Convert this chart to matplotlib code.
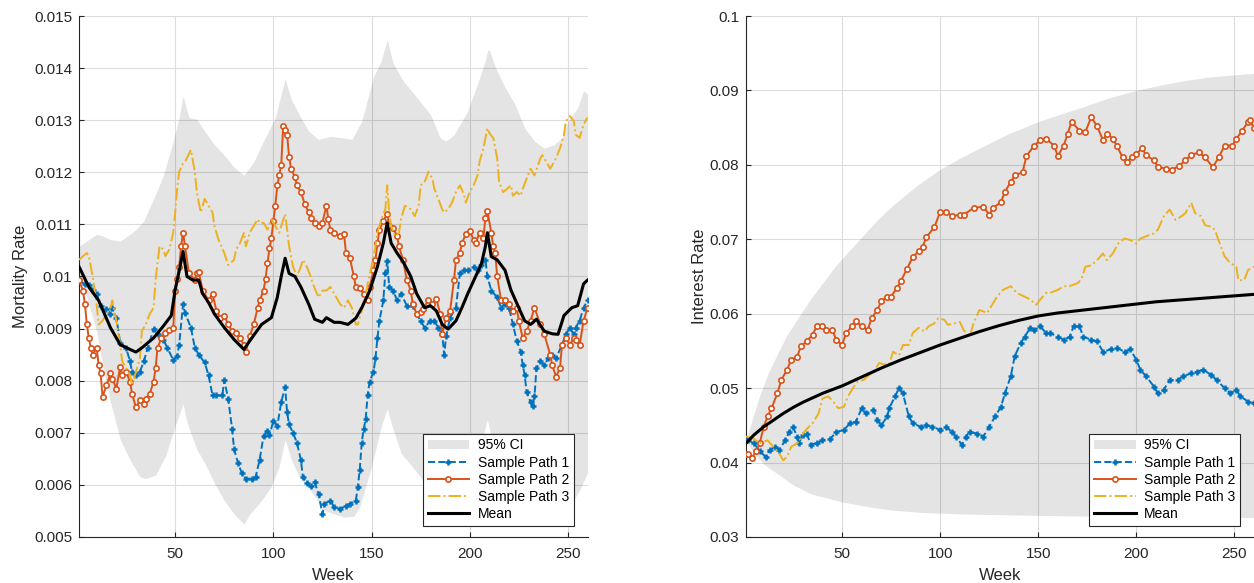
#!/usr/bin/env python3

# simulated mortality and interest rate paths, weekly horizon (5 years)

import matplotlib
matplotlib.use('Agg')
import matplotlib.pyplot as plt
from matplotlib.ticker import FuncFormatter
import numpy as np

# ---------------- mortality rate panel ----------------
mort_ci_up_wk = [1, 6, 10, 13, 17, 22, 27, 30, 34, 39, 44, 49, 52, 54, 57, 61, 65, 70, 75, 80, 85, 90, 95, 101, 104, 106, 109, 113, 118, 123, 129, 136, 140, 145, 151, 155, 158, 161, 166, 173, 180, 185, 188, 192, 199, 204, 208, 209.5, 213, 218, 223, 228, 233, 238, 243, 247, 250, 255, 258, 260]
mort_ci_up = [0.01058, 0.01071, 0.01081, 0.01078, 0.01071, 0.01068, 0.01081, 0.01090, 0.01107, 0.01149, 0.01194, 0.01260, 0.01305, 0.01347, 0.01305, 0.01302, 0.01279, 0.01253, 0.01233, 0.01210, 0.01194, 0.01220, 0.01260, 0.01305, 0.01350, 0.01380, 0.01341, 0.01312, 0.01279, 0.01263, 0.01269, 0.01266, 0.01263, 0.01298, 0.01383, 0.01415, 0.01455, 0.01409, 0.01376, 0.01344, 0.01311, 0.01266, 0.01260, 0.01272, 0.01318, 0.01370, 0.01415, 0.01441, 0.01402, 0.01363, 0.01331, 0.01285, 0.01260, 0.01246, 0.01253, 0.01266, 0.01298, 0.01324, 0.01357, 0.01350]

mort_ci_lo_wk = [1, 5, 10, 13, 17, 22, 27, 32, 35, 40, 45, 50, 53, 54, 56, 61, 65, 70, 75, 80, 85, 88, 94, 99, 103, 106, 109, 113, 120, 126, 131, 136, 141, 144, 147, 150, 155, 158, 161, 165, 171, 180, 190, 200, 205, 209, 213, 220, 228, 236, 245, 252, 256, 260]
mort_ci_lo = [0.00993, 0.00960, 0.00895, 0.00830, 0.00759, 0.00687, 0.00648, 0.00616, 0.00612, 0.00619, 0.00655, 0.00713, 0.00745, 0.00755, 0.00720, 0.00668, 0.00642, 0.00603, 0.00570, 0.00544, 0.00525, 0.00544, 0.00570, 0.00597, 0.00636, 0.00687, 0.00650, 0.00616, 0.00584, 0.00551, 0.00544, 0.00538, 0.00540, 0.00558, 0.00596, 0.00635, 0.00713, 0.00746, 0.00707, 0.00661, 0.00634, 0.00590, 0.00565, 0.00620, 0.00670, 0.00725, 0.00660, 0.00600, 0.00565, 0.00545, 0.00540, 0.00565, 0.00590, 0.00623]

mort_p1_wk = [1, 4, 6, 8, 10, 12, 15, 17, 18, 20, 22, 25, 27, 28, 30, 32, 34, 36, 39, 41, 44, 46, 49, 51, 52, 54, 55, 58, 60, 62, 65, 67, 69, 71, 74, 75, 77, 79, 80, 82, 84, 86, 89, 91, 93, 95, 97, 98, 100, 102, 104, 106, 107, 108, 110, 112, 114, 115, 117, 119, 121, 123, 125, 126, 129, 131, 134, 137, 139, 142, 143, 144, 145, 146, 147, 148, 149, 151, 152, 153, 154, 156, 157, 158, 159, 161, 163, 165, 168, 171, 173, 175, 177, 180, 182, 184, 186, 187, 188, 190, 193, 195, 197, 199, 202, 204, 206, 208, 209, 211, 214, 216, 218, 220, 222, 224, 226, 227, 228, 229, 231, 232, 233, 234, 236, 238, 240, 242, 244, 247, 249, 251, 253, 254, 256, 258, 260]
mort_p1 = [0.00993, 0.00985, 0.00983, 0.00975, 0.00967, 0.00944, 0.00938, 0.00928, 0.00940, 0.00921, 0.00873, 0.00863, 0.00837, 0.00817, 0.00811, 0.00817, 0.00837, 0.00863, 0.00899, 0.00889, 0.00879, 0.00863, 0.00840, 0.00847, 0.00869, 0.00947, 0.00930, 0.00902, 0.00863, 0.00850, 0.00835, 0.00810, 0.00772, 0.00772, 0.00772, 0.00801, 0.00765, 0.00707, 0.00668, 0.00642, 0.00622, 0.00612, 0.00612, 0.00616, 0.00648, 0.00694, 0.00704, 0.00695, 0.00723, 0.00713, 0.00759, 0.00788, 0.00739, 0.00716, 0.00700, 0.00681, 0.00648, 0.00616, 0.00603, 0.00597, 0.00605, 0.00583, 0.00544, 0.00564, 0.00570, 0.00557, 0.00554, 0.00560, 0.00564, 0.00570, 0.00596, 0.00629, 0.00681, 0.00707, 0.00726, 0.00772, 0.00798, 0.00817, 0.00843, 0.00882, 0.00915, 0.00954, 0.01006, 0.01030, 0.00980, 0.00973, 0.00954, 0.00967, 0.00944, 0.00944, 0.00928, 0.00915, 0.00902, 0.00915, 0.00915, 0.00902, 0.00889, 0.00850, 0.00885, 0.00921, 0.00940, 0.01006, 0.01012, 0.01012, 0.01019, 0.01012, 0.01022, 0.01032, 0.01000, 0.00973, 0.00960, 0.00940, 0.00947, 0.00940, 0.00908, 0.00876, 0.00856, 0.00830, 0.00811, 0.00778, 0.00759, 0.00752, 0.00770, 0.00824, 0.00837, 0.00830, 0.00843, 0.00850, 0.00843, 0.00869, 0.00889, 0.00902, 0.00889, 0.00902, 0.00915, 0.00940, 0.00954]

mort_p2_wk = [1, 3, 4, 5, 6, 7, 8, 10, 11, 12, 13, 15, 17, 18, 20, 22, 23, 25, 27, 28, 30, 32, 34, 35, 37, 39, 40, 41, 43, 45, 47, 49, 50, 51, 52, 53, 54, 55, 57, 60, 61, 62, 64, 67, 69, 71, 73, 75, 77, 79, 81, 83, 85, 86, 88, 90, 92, 93, 95, 96, 97, 98, 99, 100, 101, 102, 103, 104, 105, 106, 107, 108, 109, 111, 112, 114, 116, 118, 119, 121, 123, 125, 127, 128, 129, 131, 134, 136, 137, 139, 141, 142, 144, 146, 148, 149, 151, 152, 153, 154, 156, 158, 159, 161, 163, 164, 166, 168, 170, 171, 173, 175, 176, 179, 181, 183, 185, 186, 188, 190, 192, 193, 195, 196, 198, 200, 202, 203, 205, 207, 208, 209, 211, 212, 213, 214, 216, 218, 220, 222, 224, 225, 227, 229, 231, 233, 236, 238, 241, 242, 244, 246, 247, 249, 251, 253, 254, 256, 258, 260]
mort_p2 = [0.00993, 0.00973, 0.00947, 0.00908, 0.00882, 0.00863, 0.00850, 0.00863, 0.00830, 0.00814, 0.00769, 0.00791, 0.00814, 0.00804, 0.00785, 0.00827, 0.00811, 0.00817, 0.00798, 0.00775, 0.00749, 0.00762, 0.00756, 0.00765, 0.00775, 0.00798, 0.00824, 0.00863, 0.00882, 0.00892, 0.00898, 0.00901, 0.00973, 0.00996, 0.01019, 0.01058, 0.01084, 0.01058, 0.01006, 0.00993, 0.01006, 0.01009, 0.00973, 0.00954, 0.00967, 0.00934, 0.00921, 0.00925, 0.00908, 0.00895, 0.00892, 0.00882, 0.00869, 0.00856, 0.00886, 0.00908, 0.00940, 0.00954, 0.00973, 0.00996, 0.01025, 0.01054, 0.01074, 0.01107, 0.01136, 0.01175, 0.01194, 0.01214, 0.01289, 0.01282, 0.01272, 0.01230, 0.01207, 0.01191, 0.01175, 0.01162, 0.01139, 0.01123, 0.01113, 0.01103, 0.01097, 0.01103, 0.01136, 0.01110, 0.01090, 0.01084, 0.01077, 0.01081, 0.01045, 0.01035, 0.01000, 0.00980, 0.00977, 0.00967, 0.00954, 0.00980, 0.01012, 0.01032, 0.01064, 0.01090, 0.01107, 0.01120, 0.01097, 0.01094, 0.01077, 0.01058, 0.01032, 0.00993, 0.00973, 0.00947, 0.00928, 0.00931, 0.00938, 0.00954, 0.00947, 0.00957, 0.00928, 0.00889, 0.00921, 0.00934, 0.00993, 0.01032, 0.01045, 0.01064, 0.01081, 0.01087, 0.01071, 0.01064, 0.01084, 0.01074, 0.01113, 0.01126, 0.01084, 0.01058, 0.01045, 0.01000, 0.00954, 0.00954, 0.00947, 0.00934, 0.00940, 0.00915, 0.00882, 0.00895, 0.00915, 0.00940, 0.00908, 0.00889, 0.00850, 0.00830, 0.00808, 0.00824, 0.00869, 0.00882, 0.00869, 0.00882, 0.00879, 0.00869, 0.00915, 0.00940]

mort_p3_wk = [1, 3, 5, 6, 8, 10, 11, 13, 15, 17, 18, 20, 22, 23, 25, 27, 28, 30, 32, 33, 35, 37, 39, 40, 42, 44, 45, 47, 49, 50, 51, 52, 54, 55, 58, 60, 61, 63, 65, 67, 69, 70, 72, 75, 77, 80, 81, 83, 85, 86, 88, 90, 92, 93, 95, 97, 99, 101, 103, 104, 106, 107, 108, 110, 112, 114, 115, 117, 119, 120, 123, 125, 127, 129, 131, 134, 136, 138, 140, 142, 143, 145, 147, 148, 150, 152, 153, 155, 157, 158, 159, 160, 162, 164, 165, 167, 170, 172, 174, 175, 177, 179, 181, 182, 184, 186, 187, 189, 191, 193, 195, 197, 198, 200, 202, 204, 205, 207, 209, 210, 212, 214, 215, 217, 219, 221, 222, 224, 226, 227, 229, 231, 233, 236, 237, 239, 241, 243, 244, 246, 248, 249, 251, 253, 254, 256, 258, 260]
mort_p3 = [0.01032, 0.01039, 0.01045, 0.01039, 0.00999, 0.00947, 0.00908, 0.00915, 0.00928, 0.00940, 0.00954, 0.00915, 0.00869, 0.00837, 0.00824, 0.00811, 0.00791, 0.00817, 0.00843, 0.00895, 0.00908, 0.00928, 0.00940, 0.00993, 0.01058, 0.01052, 0.01039, 0.01052, 0.01084, 0.01123, 0.01168, 0.01201, 0.01217, 0.01220, 0.01243, 0.01201, 0.01162, 0.01123, 0.01149, 0.01136, 0.01123, 0.01097, 0.01071, 0.01045, 0.01022, 0.01032, 0.01052, 0.01064, 0.01084, 0.01058, 0.01084, 0.01097, 0.01110, 0.01103, 0.01103, 0.01090, 0.01110, 0.01097, 0.01084, 0.01097, 0.01120, 0.01090, 0.01058, 0.01019, 0.01000, 0.01019, 0.01032, 0.01019, 0.01000, 0.00987, 0.00960, 0.00973, 0.00973, 0.00980, 0.00967, 0.00947, 0.00940, 0.00954, 0.00940, 0.00908, 0.00908, 0.00934, 0.00960, 0.00986, 0.01019, 0.01058, 0.01084, 0.01110, 0.01129, 0.01175, 0.01123, 0.01097, 0.01077, 0.01084, 0.01110, 0.01136, 0.01129, 0.01116, 0.01136, 0.01175, 0.01181, 0.01201, 0.01188, 0.01168, 0.01149, 0.01129, 0.01123, 0.01129, 0.01142, 0.01162, 0.01175, 0.01158, 0.01142, 0.01162, 0.01175, 0.01194, 0.01220, 0.01246, 0.01285, 0.01275, 0.01266, 0.01227, 0.01181, 0.01162, 0.01168, 0.01175, 0.01155, 0.01162, 0.01155, 0.01168, 0.01188, 0.01207, 0.01194, 0.01227, 0.01233, 0.01220, 0.01207, 0.01220, 0.01227, 0.01246, 0.01272, 0.01298, 0.01308, 0.01298, 0.01272, 0.01266, 0.01292, 0.01305]

mort_mean_wk = [1, 6, 11, 17, 22, 27, 30, 33, 39, 44, 48, 50, 52, 54, 56, 59, 62, 64, 67, 70, 75, 80, 85, 89, 94, 99, 102, 104, 106, 108, 111, 114, 118, 121, 125, 127, 131, 134, 138, 142, 145, 149, 153, 156, 158, 160, 163, 166, 170, 173, 177, 180, 183, 186, 189, 193, 196, 199, 203, 206, 208, 209, 211, 214, 218, 221, 225, 228, 231, 234, 238, 242, 245, 248, 252, 255, 258, 260]
mort_mean = [0.01019, 0.00980, 0.00954, 0.00902, 0.00869, 0.00860, 0.00855, 0.00863, 0.00882, 0.00905, 0.00925, 0.00975, 0.01010, 0.01048, 0.01000, 0.00993, 0.00993, 0.00967, 0.00950, 0.00928, 0.00902, 0.00879, 0.00860, 0.00882, 0.00908, 0.00921, 0.00960, 0.01000, 0.01035, 0.01006, 0.01000, 0.00980, 0.00947, 0.00918, 0.00912, 0.00921, 0.00912, 0.00912, 0.00908, 0.00920, 0.00940, 0.00972, 0.01019, 0.01064, 0.01103, 0.01064, 0.01045, 0.01029, 0.01000, 0.00967, 0.00940, 0.00944, 0.00934, 0.00908, 0.00899, 0.00915, 0.00940, 0.00967, 0.01000, 0.01025, 0.01058, 0.01084, 0.01038, 0.01032, 0.01012, 0.00974, 0.00940, 0.00915, 0.00908, 0.00918, 0.00895, 0.00890, 0.00889, 0.00925, 0.00940, 0.00944, 0.00986, 0.00993]

# ---------------- interest rate panel ----------------
int_ci_up_wk = [1, 3, 5, 8, 12, 17, 22, 28, 34, 40, 46, 53, 60, 68, 76, 88, 100, 110, 122, 135, 150, 160, 173, 186, 200, 212, 224, 237, 250, 260]
int_ci_up = [0.0430, 0.0448, 0.0465, 0.0490, 0.0518, 0.0546, 0.0572, 0.0596, 0.0620, 0.0641, 0.0662, 0.0683, 0.0703, 0.0726, 0.0746, 0.0772, 0.0794, 0.0809, 0.0825, 0.0842, 0.0858, 0.0867, 0.0878, 0.0890, 0.0900, 0.0907, 0.0913, 0.0918, 0.0921, 0.0923]

int_ci_lo_wk = [1, 5, 10, 17, 25, 34, 50, 65, 76, 90, 110, 130, 150, 175, 200, 230, 260]
int_ci_lo = [0.0430, 0.0412, 0.0398, 0.0385, 0.0370, 0.0358, 0.0347, 0.0340, 0.0336, 0.0333, 0.0331, 0.0330, 0.0329, 0.0328, 0.0327, 0.0327, 0.0326]

int_p1_wk = [1, 2, 5, 8, 11, 13, 16, 18, 21, 23, 25, 27, 28, 30, 32, 34, 37, 40, 44, 47, 51, 54, 57, 60, 62, 66, 68, 70, 73, 74, 77, 79, 81, 84, 86, 90, 93, 96, 100, 103, 106, 108, 111, 113, 115, 119, 122, 125, 128, 131, 133, 136, 138, 141, 143, 146, 148, 151, 154, 156, 160, 163, 166, 168, 171, 173, 177, 180, 183, 187, 190, 194, 197, 200, 202, 205, 209, 211, 214, 217, 221, 224, 228, 231, 234, 238, 241, 245, 248, 251, 253, 257, 260]
int_p1 = [0.0430, 0.0430, 0.0426, 0.0415, 0.0408, 0.0417, 0.0421, 0.0417, 0.0430, 0.0441, 0.0448, 0.0435, 0.0426, 0.0437, 0.0439, 0.0424, 0.0426, 0.0430, 0.0432, 0.0441, 0.0444, 0.0453, 0.0455, 0.0473, 0.0466, 0.0471, 0.0457, 0.0450, 0.0462, 0.0473, 0.0489, 0.0500, 0.0493, 0.0462, 0.0453, 0.0448, 0.0450, 0.0448, 0.0444, 0.0448, 0.0441, 0.0435, 0.0424, 0.0435, 0.0441, 0.0439, 0.0435, 0.0448, 0.0462, 0.0475, 0.0493, 0.0516, 0.0543, 0.0560, 0.0569, 0.0581, 0.0578, 0.0583, 0.0574, 0.0574, 0.0569, 0.0565, 0.0569, 0.0583, 0.0583, 0.0569, 0.0565, 0.0563, 0.0549, 0.0552, 0.0554, 0.0549, 0.0552, 0.0538, 0.0525, 0.0516, 0.0502, 0.0493, 0.0498, 0.0511, 0.0511, 0.0516, 0.0520, 0.0522, 0.0525, 0.0518, 0.0511, 0.0500, 0.0493, 0.0498, 0.0489, 0.0482, 0.0480]

int_p2_wk = [1, 2, 4, 6, 8, 10, 12, 14, 17, 19, 22, 24, 27, 29, 32, 35, 37, 40, 42, 45, 47, 50, 52, 55, 57, 60, 63, 65, 68, 70, 73, 75, 78, 80, 83, 86, 89, 91, 93, 97, 100, 103, 106, 110, 112, 117, 122, 125, 127, 131, 133, 136, 138, 142, 144, 148, 151, 154, 158, 160, 163, 165, 167, 171, 174, 177, 180, 183, 185, 188, 190, 193, 195, 198, 200, 203, 205, 209, 211, 215, 218, 222, 225, 228, 232, 235, 239, 242, 245, 249, 251, 254, 257, 258, 260]
int_p2 = [0.0412, 0.0412, 0.0406, 0.0415, 0.0426, 0.0448, 0.0462, 0.0473, 0.0493, 0.0511, 0.0525, 0.0538, 0.0542, 0.0556, 0.0563, 0.0572, 0.0583, 0.0583, 0.0578, 0.0578, 0.0565, 0.0558, 0.0574, 0.0583, 0.0590, 0.0583, 0.0578, 0.0594, 0.0605, 0.0617, 0.0623, 0.0623, 0.0635, 0.0644, 0.0660, 0.0676, 0.0684, 0.0690, 0.0703, 0.0716, 0.0737, 0.0737, 0.0731, 0.0733, 0.0733, 0.0742, 0.0744, 0.0733, 0.0742, 0.0750, 0.0764, 0.0777, 0.0786, 0.0790, 0.0812, 0.0826, 0.0833, 0.0835, 0.0826, 0.0812, 0.0826, 0.0842, 0.0858, 0.0846, 0.0844, 0.0864, 0.0852, 0.0833, 0.0842, 0.0835, 0.0826, 0.0810, 0.0804, 0.0810, 0.0815, 0.0822, 0.0813, 0.0806, 0.0797, 0.0795, 0.0793, 0.0799, 0.0806, 0.0813, 0.0817, 0.0810, 0.0797, 0.0810, 0.0826, 0.0826, 0.0835, 0.0846, 0.0858, 0.0860, 0.0849]

int_p3_wk = [1, 5, 8, 12, 15, 18, 20, 22, 24, 27, 29, 30, 33, 35, 38, 40, 43, 46, 48, 51, 53, 56, 58, 61, 63, 66, 69, 71, 74, 76, 79, 81, 84, 86, 89, 92, 94, 97, 99, 102, 104, 107, 110, 112, 115, 117, 120, 124, 126, 129, 132, 136, 139, 143, 146, 149, 151, 154, 156, 160, 163, 166, 170, 172, 174, 177, 180, 183, 185, 188, 191, 194, 197, 200, 202, 205, 209, 211, 214, 217, 220, 223, 225, 228, 230, 233, 235, 238, 240, 243, 245, 248, 251, 252, 255, 257, 260]
int_p3 = [0.0435, 0.0432, 0.0426, 0.0430, 0.0421, 0.0412, 0.0403, 0.0408, 0.0421, 0.0426, 0.0430, 0.0439, 0.0448, 0.0453, 0.0466, 0.0486, 0.0489, 0.0480, 0.0473, 0.0475, 0.0489, 0.0502, 0.0509, 0.0511, 0.0516, 0.0522, 0.0534, 0.0532, 0.0532, 0.0549, 0.0544, 0.0558, 0.0558, 0.0574, 0.0581, 0.0576, 0.0583, 0.0587, 0.0594, 0.0592, 0.0585, 0.0587, 0.0589, 0.0578, 0.0569, 0.0587, 0.0605, 0.0601, 0.0610, 0.0623, 0.0632, 0.0637, 0.0628, 0.0623, 0.0619, 0.0612, 0.0619, 0.0628, 0.0628, 0.0632, 0.0637, 0.0637, 0.0641, 0.0646, 0.0663, 0.0665, 0.0672, 0.0681, 0.0672, 0.0681, 0.0695, 0.0701, 0.0699, 0.0694, 0.0701, 0.0704, 0.0708, 0.0713, 0.0731, 0.0740, 0.0726, 0.0731, 0.0735, 0.0749, 0.0735, 0.0731, 0.0719, 0.0717, 0.0713, 0.0691, 0.0677, 0.0668, 0.0663, 0.0645, 0.0645, 0.0659, 0.0663]

int_mean_wk = [1, 5, 10, 15, 20, 25, 30, 40, 50, 60, 70, 80, 90, 100, 110, 120, 130, 140, 150, 160, 170, 180, 190, 200, 210, 220, 230, 240, 250, 260]
int_mean = [0.0426, 0.0437, 0.0448, 0.0457, 0.0466, 0.0474, 0.0481, 0.0493, 0.0503, 0.0515, 0.0527, 0.0538, 0.0548, 0.0558, 0.0567, 0.0576, 0.0584, 0.0591, 0.0597, 0.0601, 0.0604, 0.0607, 0.0610, 0.0613, 0.0616, 0.0618, 0.0620, 0.0622, 0.0624, 0.0626]

week_ticks = [50, 100, 150, 200, 250]

# matlab default line colours
c_blue = '#0072BD'
c_orange = '#D95319'
c_yellow = '#EDB120'
c_axis = '#262626'

plt.rcParams['font.family'] = ['Liberation Sans', 'DejaVu Sans']

def draw_panel(ax, ci_up_wk, ci_up, ci_lo_wk, ci_lo, paths, mean_wk, mean, ylim, ystep, ylabel, ypad):
	"""Draw one panel: CI band, three sample paths and the mean path"""
	# band is drawn on a common week grid, bounds taken at their own read weeks
	wk = np.arange(1, 261)
	up = np.interp(wk, ci_up_wk, ci_up)
	lo = np.interp(wk, ci_lo_wk, ci_lo)
	ax.fill_between(wk, lo, up, color = 'k', alpha = 0.105, linewidth = 0, label = '95% CI', zorder = 1)

	(w1, p1), (w2, p2), (w3, p3) = paths
	ax.plot(w1, p1, linestyle = '--', color = c_blue, linewidth = 1.4, marker = '+', markersize = 4.5,
		markeredgewidth = 1.8, label = 'Sample Path 1', zorder = 3)
	ax.plot(w2, p2, linestyle = '-', color = c_orange, linewidth = 1.4, marker = 'o', markersize = 3.8,
		markeredgewidth = 1.2, markerfacecolor = 'white', label = 'Sample Path 2', zorder = 3)
	ax.plot(w3, p3, linestyle = '-.', color = c_yellow, linewidth = 1.4, label = 'Sample Path 3', zorder = 3)
	ax.plot(mean_wk, mean, linestyle = '-', color = 'k', linewidth = 2.2, label = 'Mean', zorder = 4)

	ax.set_xlim(1, 260)
	ax.set_ylim(*ylim)
	ax.set_xticks(week_ticks)
	ax.set_yticks(np.arange(ylim[0], ylim[1] + ystep / 2, ystep))
	ax.yaxis.set_major_formatter(FuncFormatter(lambda v, p: '{:g}'.format(round(v, 6))))
	ax.grid(True, color = '#dcdcdc', linewidth = 0.8)
	ax.set_axisbelow(True)
	for side in ['top', 'right']:
		ax.spines[side].set_visible(False)
	for side in ['left', 'bottom']:
		ax.spines[side].set_color(c_axis)
		ax.spines[side].set_linewidth(0.8)
	ax.tick_params(direction = 'in', length = 3.5, width = 0.8, colors = c_axis, labelsize = 11, pad = 5)
	ax.tick_params(axis = 'x', pad = 7)
	ax.set_xlabel('Week', fontsize = 12, color = c_axis, labelpad = 5)
	ax.set_ylabel(ylabel, fontsize = 12, color = c_axis, labelpad = ypad)

	leg = ax.legend(loc = 'lower right', bbox_to_anchor = (0.973, 0.022), fontsize = 10, frameon = True,
		fancybox = False, framealpha = 1, edgecolor = c_axis, handlelength = 3.0, labelspacing = 0.22,
		borderpad = 0.35, handletextpad = 0.6, borderaxespad = 0)
	leg.get_frame().set_linewidth(0.8)
	for txt in leg.get_texts():
		txt.set_color('k')
	return ax

fig = plt.figure(figsize = (12.54, 5.83), dpi = 100)
ax_mort = fig.add_axes([79 / 1254, 46 / 583, 508.5 / 1254, 521 / 583])
ax_int = fig.add_axes([746 / 1254, 46 / 583, 508 / 1254, 521 / 583])

draw_panel(ax_mort, mort_ci_up_wk, mort_ci_up, mort_ci_lo_wk, mort_ci_lo,
	[(mort_p1_wk, mort_p1), (mort_p2_wk, mort_p2), (mort_p3_wk, mort_p3)],
	mort_mean_wk, mort_mean, (0.005, 0.015), 0.001, 'Mortality Rate', 4.5)

draw_panel(ax_int, int_ci_up_wk, int_ci_up, int_ci_lo_wk, int_ci_lo,
	[(int_p1_wk, int_p1), (int_p2_wk, int_p2), (int_p3_wk, int_p3)],
	int_mean_wk, int_mean, (0.03, 0.1), 0.01, 'Interest Rate', 2.0)

fig.savefig('out.png', dpi = 100)
